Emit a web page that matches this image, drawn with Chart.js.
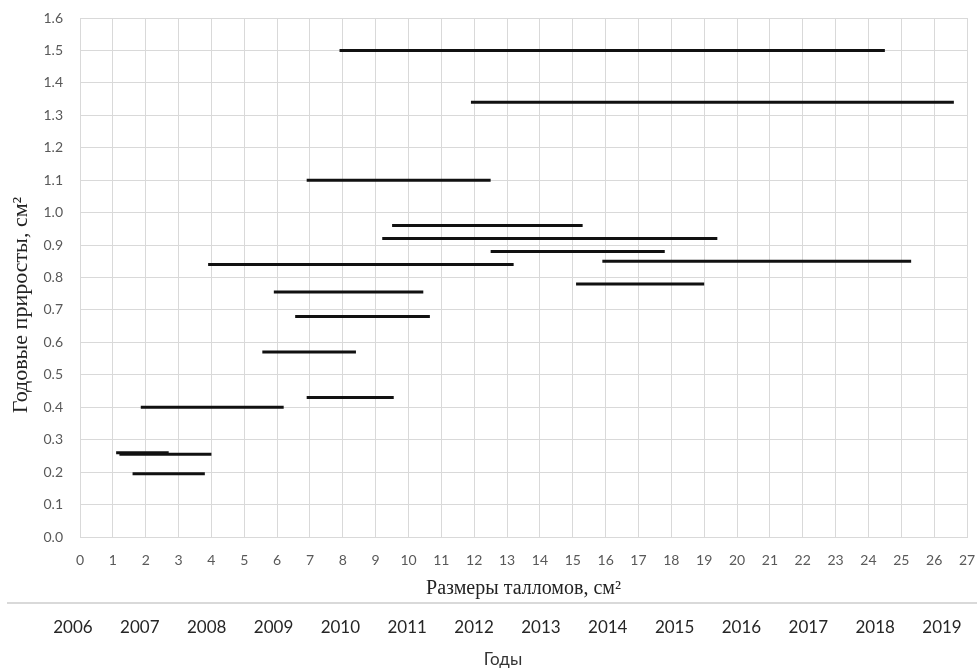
<!DOCTYPE html>
<html>
<head>
<meta charset="utf-8">
<script src="https://cdn.jsdelivr.net/npm/chart.js@4.4.0/dist/chart.umd.min.js"></script>
<style>
  html, body { margin: 0; padding: 0; background: #fff; }
  #wrap { width: 977px; height: 669px; position: relative; }
</style>
</head>
<body>
<div id="wrap"><canvas id="chart"></canvas></div>
<script>
// Горизонтальные отрезки: размер таллома (начало/конец) и годовой прирост
const segStart = [7.9, 11.9, 6.9, 9.5, 9.2, 12.5, 3.9, 15.9, 15.1, 5.9, 6.55, 5.55, 6.9, 1.85, 1.1, 1.2, 1.6];
const segEnd   = [24.5, 26.6, 12.5, 15.3, 19.4, 17.8, 13.2, 25.3, 19.0, 10.45, 10.65, 8.4, 9.55, 6.2, 2.7, 4.0, 3.8];
const segY     = [1.50, 1.34, 1.10, 0.96, 0.92, 0.88, 0.84, 0.85, 0.78, 0.755, 0.68, 0.57, 0.43, 0.40, 0.26, 0.255, 0.195];

// Ось годов (нижняя шкала)
const years = [2006, 2007, 2008, 2009, 2010, 2011, 2012, 2013, 2014, 2015, 2016, 2017, 2018, 2019];
const yearMin = 2006.105;
const yearMax = 2019.374;

const yTitle = 'Годовые приросты, см²';
const yearTitle = 'Годы';

const sansFamily = 'Lato, "Liberation Sans", sans-serif';
const serifFamily = '"Liberation Serif", "DejaVu Serif", serif';
const tickFont = { family: sansFamily, size: 14 };
const gridColor = '#d9d9d9';

const datasets = segY.map(function (y, i) {
    return {
        data: [{ x: segStart[i], y: y }, { x: segEnd[i], y: y }],
        showLine: true,
        borderColor: '#111',
        borderWidth: 3,
        pointRadius: 0,
        fill: false
    };
});

// no label overhang padding, keeps the plot box where the original has it
function noPad(s) {
    s.paddingLeft = 0; s.paddingRight = 0;
    s.paddingTop = 0; s.paddingBottom = 0;
}

// separator above the years axis, y title and "Годы" (both off-centre in the original)
const extras = {
    id: 'extras',
    afterDraw(chart) {
        const s = chart.scales.x2;
        const area = chart.chartArea;
        const ctx = chart.ctx;
        ctx.save();
        ctx.strokeStyle = gridColor;
        ctx.lineWidth = 2;
        ctx.beginPath();
        ctx.moveTo(7, s.top);
        ctx.lineTo(chart.width, s.top);
        ctx.stroke();

        ctx.fillStyle = '#333';
        ctx.font = '17px ' + sansFamily;
        ctx.textAlign = 'center';
        ctx.textBaseline = 'middle';
        ctx.fillText(yearTitle, 503, s.bottom - 9);

        ctx.translate(21, area.bottom - 232);
        ctx.rotate(-Math.PI / 2);
        ctx.fillStyle = '#222';
        ctx.font = '22px ' + serifFamily;
        ctx.fillText(yTitle, 0, 0);
        ctx.restore();
    }
};

new Chart(document.getElementById('chart'), {
    type: 'scatter',
    data: { datasets: datasets },
    plugins: [extras],
    options: {
        responsive: true,
        maintainAspectRatio: false,
        animation: false,
        layout: { padding: { top: 18, right: 10, left: 0, bottom: 0 } },
        plugins: { legend: { display: false }, tooltip: { enabled: false } },
        scales: {
            x: {
                type: 'linear',
                position: 'bottom',
                min: 0,
                max: 27,
                afterFit: function (s) { s.height = 66; noPad(s); },
                grid: { color: gridColor, drawTicks: false },
                border: { color: gridColor },
                ticks: {
                    stepSize: 1,
                    autoSkip: false,
                    maxRotation: 0,
                    padding: 15,
                    color: '#595959',
                    font: tickFont
                },
                title: {
                    display: true,
                    text: 'Размеры талломов, см²',
                    color: '#222',
                    font: { family: serifFamily, size: 20 },
                    padding: { top: 0, bottom: 2 }
                }
            },
            x2: {
                type: 'linear',
                position: 'bottom',
                min: yearMin,
                max: yearMax,
                afterFit: function (s) { s.height = 66; noPad(s); },
                afterBuildTicks: function (s) { s.ticks = years.map(v => ({ value: v })); },
                grid: { display: false, drawTicks: false },
                border: { display: false },
                ticks: {
                    autoSkip: false,
                    maxRotation: 0,
                    padding: 14,
                    color: '#262626',
                    font: { family: sansFamily, size: 17 },
                    callback: v => String(v)
                },
                title: { display: false }
            },
            y: {
                min: 0,
                max: 1.6,
                afterFit: function (s) { s.width = 80; noPad(s); },
                grid: { color: gridColor, drawTicks: false },
                border: { color: gridColor },
                ticks: {
                    stepSize: 0.1,
                    autoSkip: false,
                    padding: 17,
                    color: '#595959',
                    font: tickFont,
                    callback: v => Number(v).toFixed(1)
                },
                title: { display: false }
            }
        }
    }
});
</script>
</body>
</html>
